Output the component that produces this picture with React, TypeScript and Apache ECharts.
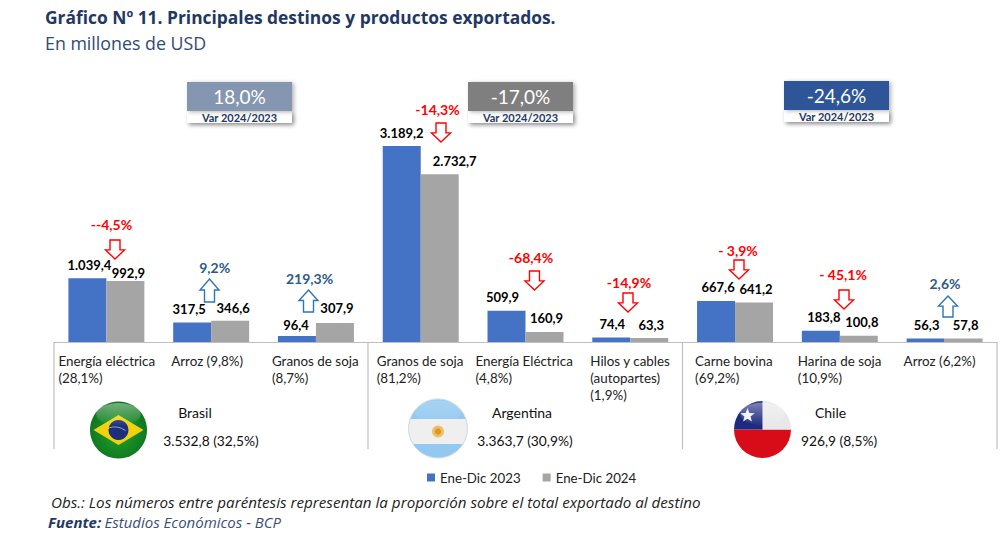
import React, { useEffect, useRef } from "react";
import * as echarts from "echarts";

const categories = [
  ["Energía eléctrica", "(28,1%)"],
  ["Arroz (9,8%)"],
  ["Granos de soja", "(8,7%)"],
  ["Granos de soja", "(81,2%)"],
  ["Energía Eléctrica", "(4,8%)"],
  ["Hilos y cables", "(autopartes)", "(1,9%)"],
  ["Carne bovina", "(69,2%)"],
  ["Harina de soja", "(10,9%)"],
  ["Arroz (6,2%)"],
];
const values2023 = [1039.4, 317.5, 96.4, 3189.2, 509.9, 74.4, 667.6, 183.8, 56.3];
const values2024 = [992.9, 346.6, 307.9, 2732.7, 160.9, 63.3, 641.2, 100.8, 57.8];
const seriesNames = ["Ene-Dic 2023", "Ene-Dic 2024"];
const varLabels = ["--4,5%", "9,2%", "219,3%", "-14,3%", "-68,4%", "-14,9%", "- 3,9%", "- 45,1%", "2,6%"];
const countries = [
  ["Brasil", "3.532,8 (32,5%)", "18,0%"],
  ["Argentina", "3.363,7 (30,9%)", "-17,0%"],
  ["Chile", "926,9 (8,5%)", "-24,6%"],
];

// layout only
const labelLeft = [48, 40, 44, 44, 50, 40, 40, 42, 41];
const off2023 = [[2, -2], [-3, -2], [-1, 0], [0, -2], [-4, -2], [1, -2], [2, -2.5], [3, -2], [1, -2]];
const off2024 = [[3, 3.5], [3, -1], [2, -3.5], [15, -1.5], [2, -2.5], [2, -1.5], [2, -2], [3, -2], [2, -2]];
const varLabelPos = [[111.5, 224], [214.7, 267], [309.5, 278], [437.5, 109], [531, 257], [629, 282], [738, 250], [843, 274], [945, 283]];
const arrowPos = [[115, 240, 259], [209.5, 279, 302], [308.5, 290, 312], [441, 123, 142], [534.5, 271, 290], [628, 293, 312], [739, 260, 279], [844, 290, 309], [948, 296, 317]];
const countryPos = [[187, 82], [468, 82], [784, 81]];
const countryTextX = [[195, 211], [522, 525], [830.5, 839]];

const NAVY = "#1f3864";
const SANS = "Lato";
const fmt = (v: number) => {
  const [a, b] = v.toFixed(1).split(".");
  return a.replace(/\B(?=(\d{3})+$)/g, ".") + "," + b;
};
const dataOf = (vals: number[], offs: number[][]) =>
  vals.map((value, i) => ({ value, label: { offset: offs[i] } }));

function arrow(cx: number, y0: number, y1: number, up: boolean, color: string) {
  const hw = 9.5, sw = 5, h = (y1 - y0) * 0.48;
  const pts = up
    ? [[cx, y0], [cx + hw, y0 + h], [cx + sw, y0 + h], [cx + sw, y1], [cx - sw, y1], [cx - sw, y0 + h], [cx - hw, y0 + h]]
    : [[cx, y1], [cx + hw, y1 - h], [cx + sw, y1 - h], [cx + sw, y0], [cx - sw, y0], [cx - sw, y1 - h], [cx - hw, y1 - h]];
  return { type: "polygon", shape: { points: pts }, style: { fill: "#fff", stroke: color, lineWidth: 1.4 } };
}
function text(x: number, y: number, t: string, style: any) {
  return { type: "text", x, y, style: { text: t, fontFamily: SANS, verticalAlign: "middle", fill: "#111", ...style } };
}
function band(cx: number, cy: number, r: number, y0: number, y1: number) {
  const pts: number[][] = [];
  const a0 = Math.asin((y0 - cy) / r), a1 = Math.asin((y1 - cy) / r);
  for (let k = 0; k <= 8; k++) { const a = a0 + ((a1 - a0) * k) / 8; pts.push([cx + r * Math.cos(a), cy + r * Math.sin(a)]); }
  for (let k = 8; k >= 0; k--) { const a = a0 + ((a1 - a0) * k) / 8; pts.push([cx - r * Math.cos(a), cy + r * Math.sin(a)]); }
  return pts;
}
const gloss = (cx: number, cy: number, r: number, alpha = 0.42) => ({
  type: "ellipse",
  shape: { cx, cy: cy - r * 0.55, rx: r * 0.78, ry: r * 0.4 },
  style: { fill: { type: "linear", x: 0, y: 0, x2: 0, y2: 1, colorStops: [{ offset: 0, color: `rgba(255,255,255,${alpha})` }, { offset: 1, color: "rgba(255,255,255,0.02)" }] } },
});
function brazil(cx: number, cy: number, r: number) {
  return [
    { type: "circle", shape: { cx, cy, r }, style: { fill: { type: "radial", x: 0.5, y: 0.55, r: 0.6, colorStops: [{ offset: 0, color: "#23a22e" }, { offset: 1, color: "#0c6f1c" }] } } },
    { type: "polygon", shape: { points: [[cx - 25, cy], [cx, cy - 15], [cx + 25, cy], [cx, cy + 15]] }, style: { fill: "#f2d20d" } },
    { type: "circle", shape: { cx, cy, r: 10 }, style: { fill: "#1c2f7d" } },
    { type: "arc", shape: { cx: cx - 4, cy: cy + 16, r: 19, startAngle: -1.95, endAngle: -0.95 }, style: { stroke: "#c9d3ee", lineWidth: 0.7, fill: "none" } },
    gloss(cx, cy, r),
  ];
}
function argentina(cx: number, cy: number, r: number) {
  return [
    { type: "circle", shape: { cx, cy, r }, style: { fill: "#93c9f0", stroke: "#d5dde3", lineWidth: 1 } },
    { type: "polygon", shape: { points: band(cx, cy, r - 0.5, cy - 9.5, cy + 15.5) }, style: { fill: "#efefef" } },
    { type: "circle", shape: { cx, cy: cy + 3, r: 6 }, style: { fill: "#eebf6a" } },
    { type: "circle", shape: { cx, cy: cy + 3, r: 3.2 }, style: { fill: "#d99a1e" } },
    gloss(cx, cy, r, 0.2),
  ];
}
function chile(cx: number, cy: number, r: number) {
  const star: number[][] = [];
  for (let k = 0; k < 10; k++) {
    const a = -Math.PI / 2 + (k * Math.PI) / 5, q = k % 2 ? 3.2 : 7.5;
    star.push([cx - 15 + q * Math.cos(a), cy - 14 + q * Math.sin(a)]);
  }
  return [
    { type: "sector", shape: { cx, cy, r0: 0, r, startAngle: 0, endAngle: Math.PI }, style: { fill: "#d80c18" } },
    { type: "sector", shape: { cx, cy, r0: 0, r, startAngle: -Math.PI / 2, endAngle: 0 }, style: { fill: "#e8e8ea" } },
    { type: "sector", shape: { cx, cy, r0: 0, r, startAngle: Math.PI, endAngle: Math.PI * 1.5 }, style: { fill: "#1d2a80" } },
    { type: "polygon", shape: { points: star }, style: { fill: "#f2f2f2" } },
    gloss(cx, cy, r),
  ];
}

export default function App() {
  const ref = useRef<HTMLDivElement>(null);
  useEffect(() => {
    const chart = echarts.init(ref.current!, undefined, { renderer: "svg" });
    const rich: any = {};
    labelLeft.forEach((w) => { rich["w" + w] = { width: 2 * w, align: "left", fontFamily: SANS, fontSize: 13.4, lineHeight: 17, color: "#222" }; });

    const graphics: any[] = [];
    [54, 368, 682.5, 997].forEach((x) =>
      graphics.push({ type: "line", shape: { x1: x, y1: 342, x2: x, y2: 449 }, style: { stroke: "#bfbfbf", lineWidth: 1.2 } }));

    varLabels.forEach((t, i) => {
      const up = !t.startsWith("-");
      graphics.push(text(varLabelPos[i][0], varLabelPos[i][1], t, {
        align: "center", fontSize: 14, fontWeight: "bold", fill: up ? "#2e5a88" : "#ff0000",
      }));
      graphics.push(arrow(arrowPos[i][0], arrowPos[i][1], arrowPos[i][2], up, up ? "#2e75b6" : "#ff0000"));
    });

    const boxColors = ["#8496b0", "#7f7f7f", "#2f5597"];
    countries.forEach(([name, total, pct], i) => {
      const [bx, by] = countryPos[i];
      const [nameX, totalX] = countryTextX[i];
      graphics.push(text(nameX, 412.5, name, { align: "center", fontSize: 14, fill: "#111" }));
      graphics.push(text(totalX, 440, total, { align: "center", fontSize: 13.8, fill: "#111" }));
      graphics.push({ type: "rect", shape: { x: bx, y: by + 29, width: 105, height: 12 }, style: { fill: "#fff", shadowBlur: 4, shadowOffsetX: 2, shadowOffsetY: 2, shadowColor: "rgba(0,0,0,0.45)" } });
      graphics.push({ type: "rect", shape: { x: bx, y: by, width: 105, height: 29 }, style: { fill: boxColors[i], shadowBlur: 4, shadowOffsetX: 2, shadowOffsetY: 1, shadowColor: "rgba(0,0,0,0.3)" } });
      graphics.push(text(bx + 52.5, by + 14.5, pct, { align: "center", fontSize: 19, fill: "#fff" }));
      graphics.push(text(bx + 52.5, by + 35, "Var 2024/2023", { align: "center", fontSize: 11, fontWeight: "bold", fill: NAVY }));
    });

    graphics.push(...brazil(118.5, 430, 28.5), ...argentina(438, 428.5, 29.5), ...chile(762.5, 429.5, 28.5));

    graphics.push({
      type: "text", x: 51, y: 502,
      style: { text: "Obs.: Los números entre paréntesis representan la proporción sobre el total exportado al destino", fontFamily: "Open Sans", fontStyle: "italic", fontSize: 15.2, fill: "#222", verticalAlign: "middle" },
    });
    graphics.push({
      type: "text", x: 48, y: 522,
      style: {
        text: "{b|Fuente:} {r|Estudios Económicos - BCP}", verticalAlign: "middle",
        rich: {
          b: { fontFamily: "Open Sans", fontStyle: "italic", fontWeight: "bold", fontSize: 15, fill: NAVY, color: NAVY },
          r: { fontFamily: "Open Sans", fontStyle: "italic", fontSize: 15, fill: "#3a4f78", color: "#3a4f78" },
        },
      },
    });

    const barLabel = {
      show: true, position: "top", color: "#000", fontFamily: SANS, fontWeight: "bold", fontSize: 13,
      formatter: (p: any) => fmt(p.value),
    };
    chart.setOption({
      animation: false,
      backgroundColor: "#fff",
      title: {
        left: 40, top: 3, itemGap: 9,
        text: "Gráfico Nº 11. Principales destinos y productos exportados.",
        subtext: "En millones de USD",
        textStyle: { fontFamily: "Open Sans", fontSize: 17.4, fontWeight: "bold", color: NAVY },
        subtextStyle: { fontFamily: "Open Sans", fontSize: 17.8, color: "#2f4a75" },
      },
      legend: {
        left: 422, top: 466, icon: "rect", itemWidth: 8, itemHeight: 8, itemGap: 22,
        textStyle: { fontFamily: SANS, fontSize: 13.3, color: "#222" },
        data: seriesNames,
      },
      grid: { left: 54, right: 4, top: 127, bottom: 214 },
      xAxis: {
        type: "category",
        data: categories.map((c) => c.join("\n")),
        axisLine: { show: true, lineStyle: { color: "#bfbfbf", width: 1.2 } },
        axisTick: { show: false },
        axisLabel: {
          interval: 0, margin: 10, hideOverlap: false,
          formatter: (v: string, i: number) =>
            v.split("\n").map((s) => `{w${labelLeft[i]}|${s}}`).join("\n"),
          rich, verticalAlign: "top",
        },
      },
      yAxis: { type: "value", min: 0, max: 3500, show: false },
      series: [
        { name: seriesNames[0], type: "bar", data: dataOf(values2023, off2023), barGap: 0, barCategoryGap: "27.5%", itemStyle: { color: "#4472c4" }, label: barLabel },
        { name: seriesNames[1], type: "bar", data: dataOf(values2024, off2024), itemStyle: { color: "#a5a5a5" }, label: barLabel },
      ],
      graphic: graphics,
    });
    return () => chart.dispose();
  }, []);
  return <div ref={ref} style={{ position: "absolute", left: 0, top: 0, width: 1001, height: 556 }} />;
}
